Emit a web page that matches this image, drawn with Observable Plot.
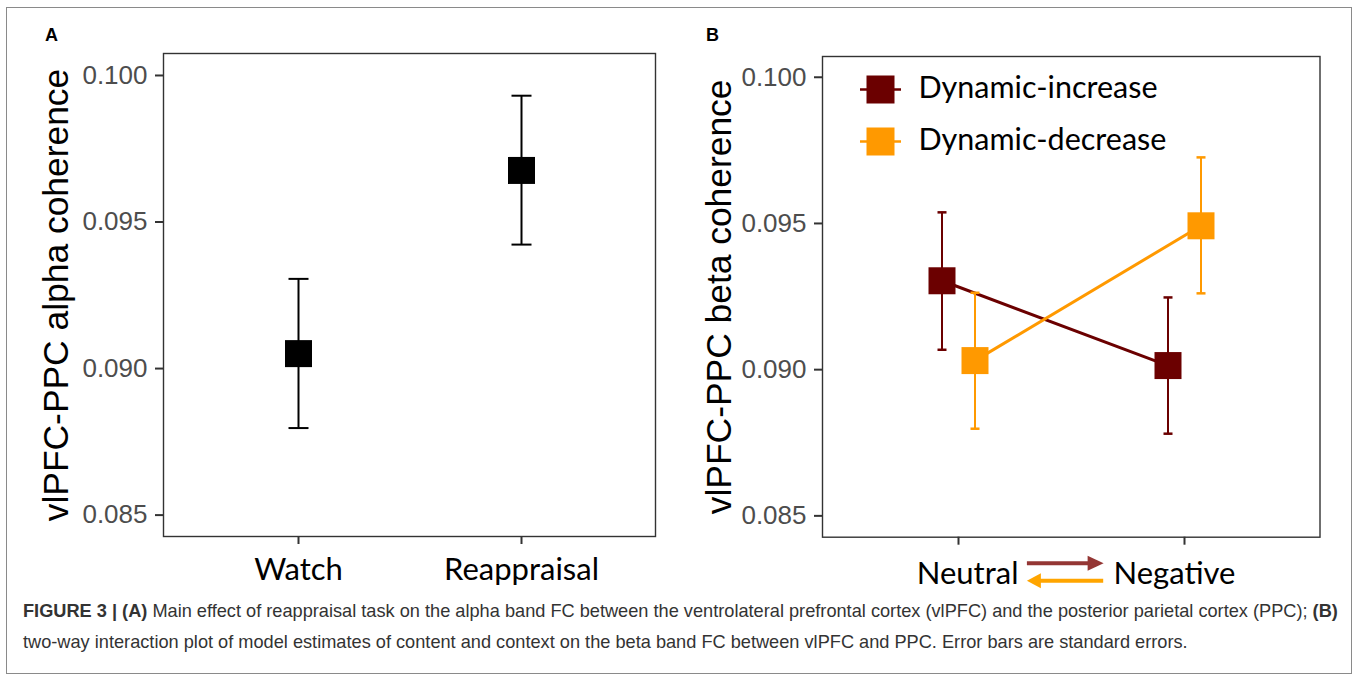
<!DOCTYPE html>
<html>
<head>
<meta charset="utf-8">
<script src="https://cdn.jsdelivr.net/npm/d3@7"></script>
<script src="https://cdn.jsdelivr.net/npm/@observablehq/plot@0.6"></script>
<style>
  body { margin: 0; background: #fff; }
  #fig { position: relative; width: 1357px; height: 681px; overflow: hidden; background: #fff;
         font-family: "Liberation Sans", Arial, sans-serif; }
  #border { position: absolute; left: 6px; top: 7px; width: 1346px; height: 667px;
            border: 1.5px solid #8a8a8a; box-sizing: border-box; }
  .panel { position: absolute; top: 0; }
  #pa { left: 0; }
  #pb { left: 680px; }
  .plab { position: absolute; top: 25px; font-weight: bold; font-size: 18px; color: #000; }
  #caption { position: absolute; left: 23px; top: 596px; width: 1330px; font-size: 18.2px;
             line-height: 31px; color: #333; white-space: nowrap; }
  g[aria-label="y-axis label"] { font-size: 35.4px; fill: #000; }
</style>
</head>
<body>
<div id="fig">
  <div id="border"></div>
  <div class="panel" id="pa"></div>
  <div class="panel" id="pb"></div>
  <div class="plab" style="left:45px">A</div>
  <div class="plab" style="left:706px">B</div>
  <div id="caption"><b>FIGURE 3 | (A)</b> Main effect of reappraisal task on the alpha band FC between the ventrolateral prefrontal cortex (vlPFC) and the posterior parietal cortex (PPC); <b>(B)</b><br>two-way interaction plot of model estimates of content and context on the beta band FC between vlPFC and PPC. Error bars are standard errors.</div>
</div>
<script>
// ---------- data ----------
const yTicks = [0.085, 0.090, 0.095, 0.100];

// Panel A
const conditionsA = ["Watch", "Reappraisal"];
const meanA = [0.09051, 0.09676];
const lowA  = [0.08797, 0.09423];
const highA = [0.09306, 0.09931];

// Panel B
const levelsB = ["Neutral", "Negative"];
const seriesB = ["Dynamic-increase", "Dynamic-decrease"];
const colorsB = ["#6b0000", "#ff9900"];
const incMean = [0.09304, 0.09014];
const incLow  = [0.09068, 0.08781];
const incHigh = [0.09538, 0.09247];
const decMean = [0.09031, 0.09492];
const decLow  = [0.08798, 0.09261];
const decHigh = [0.09263, 0.09726];

const dataA = conditionsA.map((c, i) => ({cond: c, mean: meanA[i], low: lowA[i], high: highA[i]}));
const mk = (name, m, lo, hi) => levelsB.map((l, i) => ({series: name, level: l, mean: m[i], low: lo[i], high: hi[i]}));
const dataB = [mk(seriesB[0], incMean, incLow, incHigh), mk(seriesB[1], decMean, decLow, decHigh)];

const tickFont = "Liberation Sans, Arial, sans-serif";
const catFont = "Lato, 'Open Sans', sans-serif";
const sqR = 27 / Math.sqrt(Math.PI);
const capSym = (w) => ({draw(ctx) { ctx.moveTo(-w / 2, 0); ctx.lineTo(w / 2, 0); }});

// ---------- Panel A ----------
const yA = [0.08427, 0.10075];
const plotA = Plot.plot({
  width: 680, height: 600,
  marginLeft: 163, marginRight: 25, marginTop: 53, marginBottom: 64,
  style: {fontFamily: tickFont, background: "none", overflow: "visible"},
  x: {type: "point", domain: conditionsA, padding: 0.6},
  y: {domain: yA},
  marks: [
    Plot.frame({stroke: "#333", strokeWidth: 1.4}),
    Plot.axisY({ticks: yTicks, tickFormat: ".3f", tickSize: 8, tickPadding: 8, fontSize: 26,
                stroke: "#333", fill: "#4d4d4d", strokeWidth: 2,
                label: "vlPFC-PPC alpha coherence", labelArrow: "none", labelAnchor: "center", labelOffset: 121}),
    Plot.axisX({tickSize: 8, tickPadding: 13, fontSize: 31, fontFamily: catFont,
                stroke: "#333", fill: "#000", strokeWidth: 2, label: null}),
    Plot.ruleX(dataA, {x: "cond", y1: "low", y2: "high", stroke: "#000", strokeWidth: 2}),
    Plot.dot(dataA, {x: "cond", y: "low", symbol: capSym(20), fill: "none", stroke: "#000", strokeWidth: 2}),
    Plot.dot(dataA, {x: "cond", y: "high", symbol: capSym(20), fill: "none", stroke: "#000", strokeWidth: 2}),
    Plot.dot(dataA, {x: "cond", y: "mean", symbol: "square", r: sqR, fill: "#000"})
  ]
});
document.getElementById("pa").append(plotA);

// ---------- Panel B ----------
const yB = [0.08427, 0.10071];
const dodge = [-16.5, 16.5];
const legendKey = {
  draw(ctx, size) {
    const s = Math.sqrt(size) / 2 - 1.25;
    ctx.moveTo(-20.5, 0); ctx.lineTo(-s, 0);
    ctx.moveTo(s, 0); ctx.lineTo(20.5, 0);
    ctx.rect(-s, -s, 2 * s, 2 * s);
  }
};
const headRight = {draw(ctx) { ctx.moveTo(0, 0); ctx.lineTo(-16, -7.5); ctx.lineTo(-16, 7.5); ctx.closePath(); }};
const headLeft  = {draw(ctx) { ctx.moveTo(0, 0); ctx.lineTo(14, -7.5); ctx.lineTo(14, 7.5); ctx.closePath(); }};
const arrowsB = [{from: "Neutral", to: "Negative"}];

const marksB = [
  Plot.frame({stroke: "#333", strokeWidth: 1.4}),
  Plot.axisY({ticks: yTicks, tickFormat: ".3f", tickSize: 8, tickPadding: 8, fontSize: 26,
              stroke: "#333", fill: "#4d4d4d", strokeWidth: 2,
              label: "vlPFC-PPC beta coherence", labelArrow: "none", labelAnchor: "center", labelOffset: 117}),
  Plot.axisX({tickSize: 8, tickFormat: () => "", stroke: "#333", strokeWidth: 2, label: null})
];
dataB.forEach((d, i) => marksB.push(
  Plot.line(d, {x: "level", y: "mean", stroke: "series", strokeWidth: 3, dx: dodge[i]})));
dataB.forEach((d, i) => marksB.push(
  Plot.ruleX(d, {x: "level", y1: "low", y2: "high", stroke: "series", strokeWidth: 2, dx: dodge[i]}),
  Plot.dot(d, {x: "level", y: "low", symbol: capSym(9), fill: "none", stroke: "series", strokeWidth: 2.5, dx: dodge[i]}),
  Plot.dot(d, {x: "level", y: "high", symbol: capSym(9), fill: "none", stroke: "series", strokeWidth: 2.5, dx: dodge[i]})));
dataB.forEach((d, i) => marksB.push(
  Plot.dot(d, {x: "level", y: "mean", symbol: "square", r: sqR, fill: "series", dx: dodge[i]})));
// legend inside the panel
seriesB.forEach((s, i) => marksB.push(
  Plot.dot([s], {frameAnchor: "top-left", dx: 58, dy: 33 + 52 * i, symbol: legendKey,
                 r: 28 / Math.sqrt(Math.PI), fill: d => d, stroke: d => d, strokeWidth: 2.5}),
  Plot.text([s], {frameAnchor: "top-left", dx: 96, dy: 32 + 52 * i, text: d => d,
                  textAnchor: "start", lineAnchor: "middle", fontSize: 30.5, fontFamily: catFont, fill: "#000"})));
// category labels with direction arrows
marksB.push(
  Plot.text(["Neutral"], {x: d => d, frameAnchor: "bottom", text: d => d, textAnchor: "end", lineAnchor: "top",
                          dx: 60, dy: 25, fontSize: 31, fontFamily: catFont, fill: "#000"}),
  Plot.text(["Negative"], {x: d => d, frameAnchor: "bottom", text: d => d, textAnchor: "start", lineAnchor: "top",
                           dx: -71, dy: 25, fontSize: 31, fontFamily: catFont, fill: "#000"}),
  Plot.arrow(arrowsB, {x1: "from", x2: "to", y1: () => yB[0], y2: () => yB[0], dy: 26,
                       insetStart: 68.4, insetEnd: 96, headLength: 0, stroke: "#943634", strokeWidth: 4, strokeLinecap: "butt"}),
  Plot.dot(arrowsB, {x: "to", y: () => yB[0], dx: -80.9, dy: 26, symbol: headRight, fill: "#943634"}),
  Plot.arrow(arrowsB, {x1: "to", x2: "from", y1: () => yB[0], y2: () => yB[0], dy: 43.5,
                       insetStart: 81.3, insetEnd: 80, headLength: 0, stroke: "#ffa500", strokeWidth: 4, strokeLinecap: "butt"}),
  Plot.dot(arrowsB, {x: "from", y: () => yB[0], dx: 68.4, dy: 43.5, symbol: headLeft, fill: "#ffa500"})
);

const plotB = Plot.plot({
  width: 677, height: 600,
  marginLeft: 142, marginRight: 37.5, marginTop: 56, marginBottom: 63.3,
  style: {fontFamily: tickFont, background: "none", overflow: "visible"},
  x: {type: "point", domain: levelsB, padding: 0.6},
  y: {domain: yB},
  color: {domain: seriesB, range: colorsB},
  marks: marksB
});
document.getElementById("pb").append(plotB);
</script>
</body>
</html>
